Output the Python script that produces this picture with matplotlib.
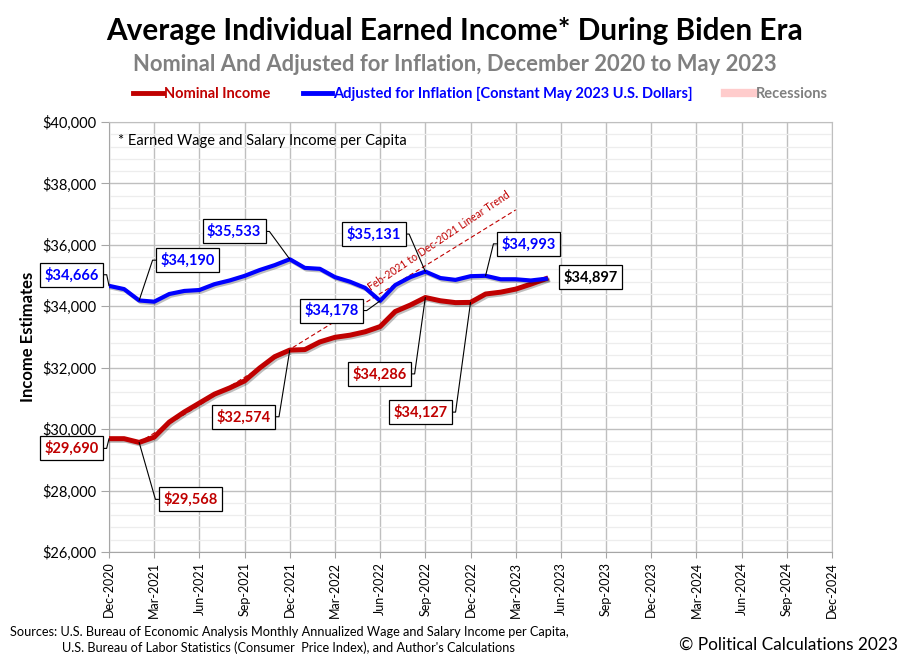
import matplotlib
matplotlib.use('Agg')
import numpy as np
import matplotlib.pyplot as plt
import matplotlib.patheffects as pe
from matplotlib.lines import Line2D
from matplotlib.ticker import MultipleLocator, FuncFormatter

plt.rcParams['font.family'] = ['Lato', 'DejaVu Sans']

# monthly, Dec 2020 .. May 2023
months = ['Dec-2020', 'Jan-2021', 'Feb-2021', 'Mar-2021', 'Apr-2021', 'May-2021',
          'Jun-2021', 'Jul-2021', 'Aug-2021', 'Sep-2021', 'Oct-2021', 'Nov-2021',
          'Dec-2021', 'Jan-2022', 'Feb-2022', 'Mar-2022', 'Apr-2022', 'May-2022',
          'Jun-2022', 'Jul-2022', 'Aug-2022', 'Sep-2022', 'Oct-2022', 'Nov-2022',
          'Dec-2022', 'Jan-2023', 'Feb-2023', 'Mar-2023', 'Apr-2023', 'May-2023']

nominalIncome = [29690, 29690, 29568, 29740, 30230, 30560, 30850, 31140, 31340, 31570,
                 31990, 32360, 32574, 32590, 32840, 32990, 33060, 33170, 33340, 33830,
                 34040, 34286, 34180, 34120, 34127, 34400, 34460, 34560, 34720, 34897]

adjustedIncome = [34666, 34560, 34190, 34150, 34400, 34500, 34530, 34720, 34840, 34990,
                  35180, 35340, 35533, 35250, 35220, 34950, 34800, 34600, 34178, 34690,
                  34950, 35131, 34920, 34860, 34980, 34993, 34880, 34880, 34840, 34897]

tickLabels = ['Dec-2020', 'Mar-2021', 'Jun-2021', 'Sep-2021', 'Dec-2021', 'Mar-2022',
              'Jun-2022', 'Sep-2022', 'Dec-2022', 'Mar-2023', 'Jun-2023', 'Sep-2023',
              'Dec-2023', 'Mar-2024', 'Jun-2024', 'Sep-2024', 'Dec-2024']

# trend is fitted over Feb-2021 .. Dec-2021
trendStart, trendEnd, trendDrawTo = 2, 12, 27

RED = '#C00000'
BLUE = '#0000FF'

# callouts: (series, month index, offset in points, side the connector leaves from)
callouts = [
    ('adj', 0, (-27, 8), 'right'),
    ('adj', 2, (35, 29), 'left'),
    ('adj', 12, (-40, 20), 'right'),
    ('adj', 21, (-37, 27), 'right'),
    ('adj', 18, (-35, -7), 'right'),
    ('adj', 25, (31, 23), 'left'),
    ('last', 29, (32, 1), None),
    ('nom', 0, (-27, -7), 'right'),
    ('nom', 2, (37, -41), 'left'),
    ('nom', 12, (-33, -48), 'right'),
    ('nom', 21, (-33, -55), 'right'),
    ('nom', 24, (-36, -79), 'right'),
]


def callout(ax, x, y, color, offset, side):
    arrow = None
    if side is not None:
        relpos, angle = ((0, 0.5), 180) if side == 'left' else ((1, 0.5), 0)
        arrow = dict(arrowstyle='-', color='black', lw=0.8, shrinkA=0, shrinkB=0,
                     relpos=relpos,
                     connectionstyle='arc,angleA={},armA=8,rad=0'.format(angle))
    ax.annotate('${:,.0f}'.format(y), xy=(x, y), xytext=offset,
                textcoords='offset points', ha='center', va='center',
                fontsize=10.5, fontweight='bold', color=color,
                bbox=dict(boxstyle='square,pad=0.3', fc='white', ec='black', lw=0.9),
                arrowprops=arrow, zorder=6, annotation_clip=False)


fig = plt.figure(figsize=(9.1, 6.61), dpi=100)
ax = fig.add_axes([0.1198, 0.1649, 0.7945, 0.6505])

x = np.arange(len(months))
shadow = [pe.SimpleLineShadow(offset=(1.2, -1.2), alpha=0.25), pe.Normal()]
ax.plot(x, nominalIncome, color=RED, lw=3.6, solid_joinstyle='round', zorder=4,
        path_effects=shadow)
ax.plot(x, adjustedIncome, color=BLUE, lw=3.0, solid_joinstyle='round', zorder=4,
        path_effects=shadow)

# linear trend
fitX = x[trendStart:trendEnd + 1]
coef = np.polyfit(fitX, nominalIncome[trendStart:trendEnd + 1], 1)
tx = np.array([trendStart, trendDrawTo])
ax.plot(tx, np.polyval(coef, tx), color=RED, lw=0.8, ls=(0, (4, 2.5)), zorder=3)
ax.text(21.9, 36120, 'Feb-2021 to Dec-2021 Linear Trend', rotation=34,
        color=RED, fontsize=7.6, ha='center', va='center', zorder=3)

for series, i, offset, side in callouts:
    if series == 'nom':
        callout(ax, i, nominalIncome[i], RED, offset, side)
    elif series == 'adj':
        callout(ax, i, adjustedIncome[i], BLUE, offset, side)
    else:
        callout(ax, i, adjustedIncome[i], 'black', offset, side)

ax.set_xlim(0, 48)
ax.set_ylim(26000, 40000)
ax.set_xticks(np.arange(0, 49, 3))
ax.set_xticklabels(tickLabels, rotation=90, fontsize=9)
ax.yaxis.set_major_locator(MultipleLocator(2000))
ax.yaxis.set_minor_locator(MultipleLocator(400))
ax.yaxis.set_major_formatter(FuncFormatter(lambda v, p: '${:,.0f}'.format(v)))
ax.tick_params(axis='y', which='major', labelsize=10.5, length=6, color='#A6A6A6', pad=3)
ax.tick_params(axis='y', which='minor', length=0)
ax.tick_params(axis='x', length=4, color='#A6A6A6', pad=3)
ax.grid(which='major', color='#BFBFBF', lw=1.0, zorder=0)
ax.grid(which='minor', axis='y', color='#EDEDED', lw=0.9, zorder=0)
ax.set_axisbelow(True)
for side in ['top', 'right']:
    ax.spines[side].set_color('#BFBFBF')
for side in ['left', 'bottom']:
    ax.spines[side].set_color('#A6A6A6')

ax.text(0.012, 0.957, '* Earned Wage and Salary Income per Capita', transform=ax.transAxes,
        fontsize=10.5, va='center')

fig.text(0.5, 0.953, 'Average Individual Earned Income* During Biden Era',
         ha='center', va='center', fontsize=21.4, fontweight='bold')
fig.text(0.5, 0.902, 'Nominal And Adjusted for Inflation, December 2020 to May 2023',
         ha='center', va='center', fontsize=15.8, fontweight='bold', color='#808080')

handles = [Line2D([], [], color=RED, lw=3.5),
           Line2D([], [], color=BLUE, lw=3.5),
           Line2D([], [], color='#FFCCCC', lw=6)]
labels = ['Nominal Income', 'Adjusted for Inflation [Constant May 2023 U.S. Dollars]',
          'Recessions']
leg = fig.legend(handles, labels, loc='center', bbox_to_anchor=(0.528, 0.858), ncol=3,
                 frameon=False, handlelength=2.0, handletextpad=0.1, columnspacing=2.2,
                 prop=dict(weight='bold', size=10.5))
for text, color in zip(leg.get_texts(), [RED, BLUE, '#808080']):
    text.set_color(color)

fig.text(0.031, 0.49, 'Income Estimates', rotation=90, ha='center', va='center',
         fontsize=12, fontweight='bold')

fig.text(10 / 910, 1 - 632 / 661,
         'Sources: U.S. Bureau of Economic Analysis Monthly Annualized Wage and Salary Income per Capita,',
         fontsize=9.2, va='center')
fig.text(62 / 910, 1 - 648 / 661,
         "U.S. Bureau of Labor Statistics (Consumer  Price Index), and Author's Calculations",
         fontsize=9.2, va='center')
fig.text(898 / 910, 1 - 645 / 661, '\u00a9 Political Calculations 2023', ha='right',
         va='center', fontsize=12.4)

fig.savefig('out.png', dpi=100)
